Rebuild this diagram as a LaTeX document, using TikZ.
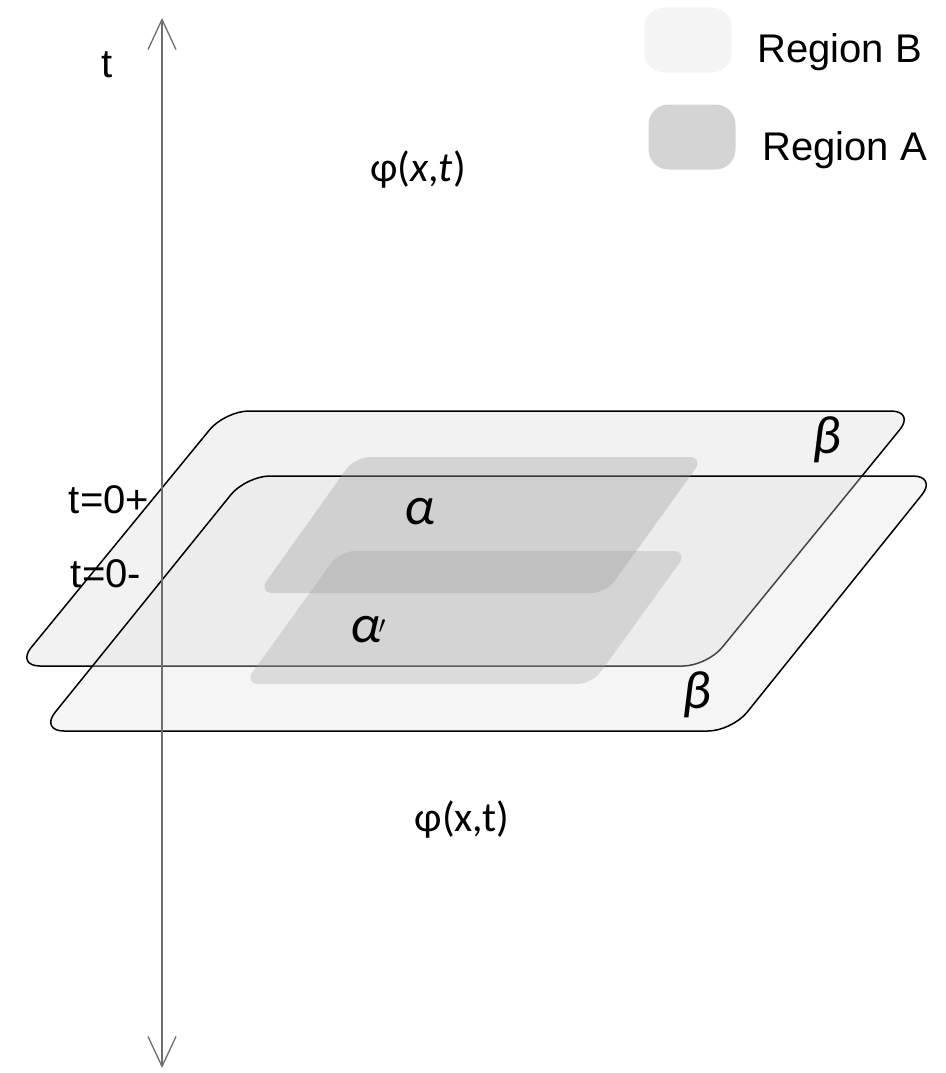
\documentclass[tikz,border=0pt]{standalone}
\usepackage{fontspec}
\setmainfont{Liberation Sans}
\newfontfamily\calfont{Carlito}
\usetikzlibrary{arrows.meta}
\usepackage{xcolor}
\definecolor{planeback}{RGB}{242,242,242}
\definecolor{planefront}{RGB}{223,223,223}
\definecolor{regionfill}{RGB}{158,158,158}
\definecolor{keyB}{RGB}{244,244,244}
\definecolor{keyA}{RGB}{212,212,212}
\definecolor{axiscolor}{RGB}{110,110,110}
\tikzset{
    plane/.style={draw=black, line width=1.5pt, rounded corners=24pt},
    region/.style={fill=regionfill, rounded corners=15pt},
    swatch/.style={rectangle, rounded corners=20pt, minimum width=87pt,
        minimum height=65pt, inner sep=0pt},
    txt/.style={font=\fontsize{40}{48}\selectfont, inner sep=0pt},
    greek/.style={font=\calfont\itshape\fontsize{54}{60}\selectfont, inner sep=0pt},
    taxis/.style={{Straight Barb[length=30pt,width=28pt]}-{Straight Barb[length=30pt,width=28pt]},
        draw=axiscolor, line width=1.3pt}
}

\begin{document}
\begin{tikzpicture}[x=1pt, y=-1pt]
    \useasboundingbox (0,0) rectangle (945,1073);

    % the two time slices
    \path[plane, fill=planeback] (225,411) -- (915,411) -- (707,666) -- (16,666) -- cycle;
    \path[plane, fill=planefront, fill opacity=0.31] (246,476) -- (937,476) -- (732,731) -- (40,731) -- cycle;

    % region A on each slice
    \path[region, fill opacity=0.35] (355,457) -- (704,457) -- (606,593) -- (258,593) -- cycle;
    \path[region, fill opacity=0.30] (340,551) -- (688,551) -- (592,684) -- (244,684) -- cycle;

    \coordinate (ttop) at (162,18);
    \coordinate (tbot) at (162,1068);
    \draw[taxis] (tbot) -- (ttop);

    \node[txt] (tlabel) at (107,65) {t};
    \node[txt] (tplus) at (109,500) {t=0+};
    \node[txt] (tminus) at (106,574) {t=0-};

    \node[txt, font=\calfont\fontsize{42}{48}\selectfont] (phitop) at (418,170) {φ(\textit{x},\textit{t})};
    \node[txt, font=\calfont\fontsize{42}{48}\selectfont] (phibot) at (462,820) {φ(x,t)};

    \node[greek] (alphaup) at (420,512) {α};
    \node[greek] (alphalow) at (368,630) {α\kern-2pt$'$};
    \node[greek] (betaup) at (827,440) {β};
    \node[greek] (betalow) at (697,695) {β};

    % legend
    \node[swatch, fill=keyB] (keyb) at (688,40) {};
    \node[swatch, fill=keyA] (keya) at (692,137) {};
    \node[txt, anchor=base west] (regb) at (757,63) {Region B};
    \node[txt, anchor=base west] (rega) at (762,160) {Region A};

\end{tikzpicture}
\end{document}
